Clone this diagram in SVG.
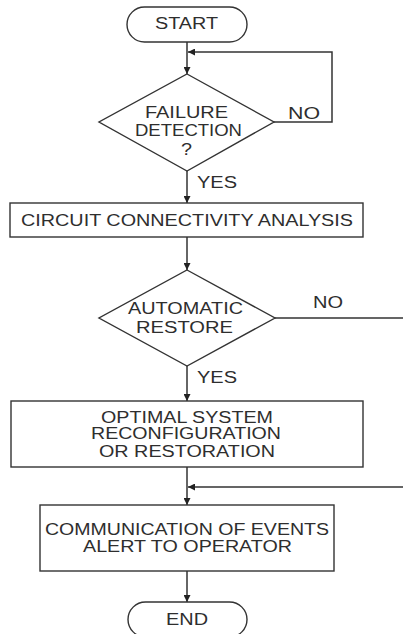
<svg xmlns="http://www.w3.org/2000/svg" width="403" height="634" viewBox="0 0 403 634">
  <style>
    .shape { fill: #ffffff; stroke: #333333; stroke-width: 1.4; }
    .wire { fill: none; stroke: #333333; stroke-width: 1.5; }
    .label { font-family: "Liberation Sans", Arial, sans-serif; font-size: 16px; fill: #2e2e2e; }
  </style>
  <defs>
    <marker id="arrow" viewBox="0 0 10 10" refX="10" refY="5" markerWidth="7" markerHeight="7" markerUnits="userSpaceOnUse" orient="auto">
      <path d="M0,0 L10,5 L0,10 z" fill="#222222"/>
    </marker>
  </defs>
  <rect width="403" height="634" fill="#ffffff"/>

  <!-- connectors -->
  <g id="connectors">
    <line class="wire" x1="187" y1="42" x2="187" y2="74" marker-end="url(#arrow)"/>
    <path class="wire" d="M274,122 H332 V52 H188" marker-end="url(#arrow)"/>
    <line class="wire" x1="187" y1="171" x2="187" y2="203" marker-end="url(#arrow)"/>
    <line class="wire" x1="187" y1="237" x2="187" y2="270" marker-end="url(#arrow)"/>
    <line class="wire" x1="187" y1="366" x2="187" y2="401" marker-end="url(#arrow)"/>
    <line class="wire" x1="187" y1="467" x2="187" y2="505" marker-end="url(#arrow)"/>
    <path class="wire" d="M275,318 H410 V487 H188" marker-end="url(#arrow)"/>
    <line class="wire" x1="187" y1="571" x2="187" y2="602" marker-end="url(#arrow)"/>
    <text class="label" x="288" y="119" textLength="32" lengthAdjust="spacingAndGlyphs">NO</text>
    <text class="label" x="197" y="188" textLength="40" lengthAdjust="spacingAndGlyphs">YES</text>
    <text class="label" x="313" y="308" textLength="30" lengthAdjust="spacingAndGlyphs">NO</text>
    <text class="label" x="197" y="383" textLength="40" lengthAdjust="spacingAndGlyphs">YES</text>
  </g>

  <g id="start">
    <rect class="shape" x="127" y="7" width="120" height="35" rx="17.5" ry="17.5"/>
    <text class="label" x="155" y="29" textLength="63" lengthAdjust="spacingAndGlyphs">START</text>
  </g>

  <g id="failure-detection">
    <polygon class="shape" points="187,74 274,122 187,171 99,122"/>
    <text class="label" x="145" y="118" textLength="83" lengthAdjust="spacingAndGlyphs">FAILURE</text>
    <text class="label" x="135" y="136" textLength="107" lengthAdjust="spacingAndGlyphs">DETECTION</text>
    <text class="label" x="181" y="155" textLength="11" lengthAdjust="spacingAndGlyphs">?</text>
  </g>

  <g id="connectivity-analysis">
    <rect class="shape" x="10" y="203" width="353" height="34"/>
    <text class="label" x="21" y="226" textLength="332" lengthAdjust="spacingAndGlyphs">CIRCUIT CONNECTIVITY ANALYSIS</text>
  </g>

  <g id="automatic-restore">
    <polygon class="shape" points="187,270 275,318 187,366 99,318"/>
    <text class="label" x="128" y="314" textLength="115" lengthAdjust="spacingAndGlyphs">AUTOMATIC</text>
    <text class="label" x="136" y="333" textLength="97" lengthAdjust="spacingAndGlyphs">RESTORE</text>
  </g>

  <g id="reconfiguration">
    <rect class="shape" x="11" y="401" width="352" height="66"/>
    <text class="label" x="101" y="423" textLength="172" lengthAdjust="spacingAndGlyphs">OPTIMAL SYSTEM</text>
    <text class="label" x="91" y="439" textLength="190" lengthAdjust="spacingAndGlyphs">RECONFIGURATION</text>
    <text class="label" x="99" y="457" textLength="176" lengthAdjust="spacingAndGlyphs">OR RESTORATION</text>
  </g>

  <g id="operator-alert">
    <rect class="shape" x="40" y="505" width="294" height="66"/>
    <text class="label" x="45" y="535" textLength="284" lengthAdjust="spacingAndGlyphs">COMMUNICATION OF EVENTS</text>
    <text class="label" x="83" y="552" textLength="209" lengthAdjust="spacingAndGlyphs">ALERT TO OPERATOR</text>
  </g>

  <g id="end">
    <rect class="shape" x="128" y="602" width="119" height="35" rx="17.5" ry="17.5"/>
    <text class="label" x="166" y="625" textLength="42" lengthAdjust="spacingAndGlyphs">END</text>
  </g>
</svg>
